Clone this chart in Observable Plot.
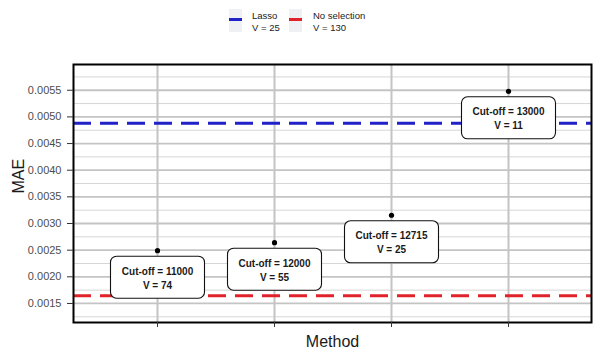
<!DOCTYPE html>
<html>
<head>
<meta charset="utf-8">
<script src="https://cdn.jsdelivr.net/npm/d3@7"></script>
<script src="https://cdn.jsdelivr.net/npm/@observablehq/plot@0.6"></script>
<style>
  body { margin: 0; background: #fff; font-family: "Liberation Sans", Arial, sans-serif; }
  #wrap { width: 594px; }
  #legend { position: relative; height: 48px; width: 594px; }
  .key { position: absolute; top: 9px; width: 13px; height: 23px; background: #eef0f3; }
  .key span { position: absolute; left: 0; width: 13px; top: 9px; height: 3px; }
  .ltxt { position: absolute; top: 10px; font-size: 9.5px; line-height: 11.5px; color: #1a1a1a; white-space: pre; }
</style>
</head>
<body>
<div id="wrap">
  <div id="legend"></div>
  <div id="chart"></div>
</div>
<script>
// ---- data ----
const cutoffs = ["11000", "12000", "12715", "13000"];
const vCounts = [74, 55, 25, 11];
const maeValues = [0.00249, 0.00264, 0.003155, 0.00548];
const refNames = ["Lasso", "No selection"];
const refV = [25, 130];
const refMAE = [0.00488, 0.001645];
const refColors = ["#2121c8", "#e0232a"];
const yTicks = [0.0015, 0.0020, 0.0025, 0.0030, 0.0035, 0.0040, 0.0045, 0.0050, 0.0055];
const yMinor = [0.00125, 0.00175, 0.00225, 0.00275, 0.00325, 0.00375, 0.00425, 0.00475, 0.00525, 0.00575];

const points = cutoffs.map((c, i) => ({cut: c, v: vCounts[i], mae: maeValues[i]}));
const refs = refNames.map((n, i) => ({name: n, v: refV[i], mae: refMAE[i], color: refColors[i]}));

// ---- legend ----
const legend = document.getElementById("legend");
const keyX = [229, 289];
const txtX = [252, 313];
refs.forEach((r, i) => {
  const k = document.createElement("div");
  k.className = "key";
  k.style.left = keyX[i] + "px";
  const s = document.createElement("span");
  s.style.background = r.color;
  k.appendChild(s);
  legend.appendChild(k);
  const t = document.createElement("div");
  t.className = "ltxt";
  t.style.left = txtX[i] + "px";
  t.textContent = r.name + "\nV = " + r.v;
  legend.appendChild(t);
});

// rounded box symbol for labels
const boxW = 94, boxH = 42, rad = 6;
const boxSymbol = {
  draw(ctx) {
    const x0 = -boxW / 2, y0 = -boxH / 2, x1 = boxW / 2, y1 = boxH / 2;
    ctx.moveTo(x0 + rad, y0);
    ctx.lineTo(x1 - rad, y0);
    ctx.arcTo(x1, y0, x1, y0 + rad, rad);
    ctx.lineTo(x1, y1 - rad);
    ctx.arcTo(x1, y1, x1 - rad, y1, rad);
    ctx.lineTo(x0 + rad, y1);
    ctx.arcTo(x0, y1, x0, y1 - rad, rad);
    ctx.lineTo(x0, y0 + rad);
    ctx.arcTo(x0, y0, x0 + rad, y0, rad);
    ctx.closePath();
  }
};

const chart = Plot.plot({
  width: 594,
  height: 306,
  marginTop: 16,
  marginBottom: 32,
  marginLeft: 73,
  marginRight: 3,
  style: {fontFamily: "'Liberation Sans', Arial, sans-serif", background: "#fff"},
  x: {type: "point", domain: cutoffs, padding: 0.7},
  y: {domain: [0.001143, 0.005983]},
  marks: [
    Plot.ruleY(yMinor, {stroke: "#d6d6d6", strokeWidth: 1}),
    Plot.ruleY(yTicks, {stroke: "#c4c4c4", strokeWidth: 1.8}),
    Plot.ruleX(cutoffs, {stroke: "#c4c4c4", strokeWidth: 2}),
    Plot.ruleY(refs, {y: "mae", stroke: "color", strokeWidth: 3, strokeDasharray: "18,9"}),
    Plot.dot(points, {x: "cut", y: "mae", r: 2.6, fill: "black", stroke: "none"}),
    Plot.dot(points, {x: "cut", y: "mae", dy: 26.5, symbol: boxSymbol, r: 10, fill: "white", stroke: "#111", strokeWidth: 1.1}),
    Plot.text(points, {x: "cut", y: "mae", dy: 26.5, text: d => `Cut-off = ${d.cut}\nV = ${d.v}`,
      fontSize: 10, fontWeight: "bold", lineHeight: 1.4, fill: "#1a1a1a"}),
    Plot.frame({stroke: "black", strokeWidth: 2}),
    Plot.axisY({ticks: yTicks, tickFormat: d3.format(".4f"), tickSize: 6, tickPadding: 6,
      fontSize: 11, fill: "#4d4d4d", stroke: "#333", label: null}),
    Plot.axisX({tickSize: 5, tickFormat: () => "", stroke: "#333", label: null}),
    Plot.text(["MAE"], {frameAnchor: "left", dx: -55, rotate: -90, fontSize: 16, fill: "#1a1a1a", lineAnchor: "middle"}),
    Plot.text(["Method"], {frameAnchor: "bottom", dy: 19.5, fontSize: 16, fill: "#1a1a1a", lineAnchor: "middle"})
  ]
});
document.getElementById("chart").appendChild(chart);
</script>
</body>
</html>
